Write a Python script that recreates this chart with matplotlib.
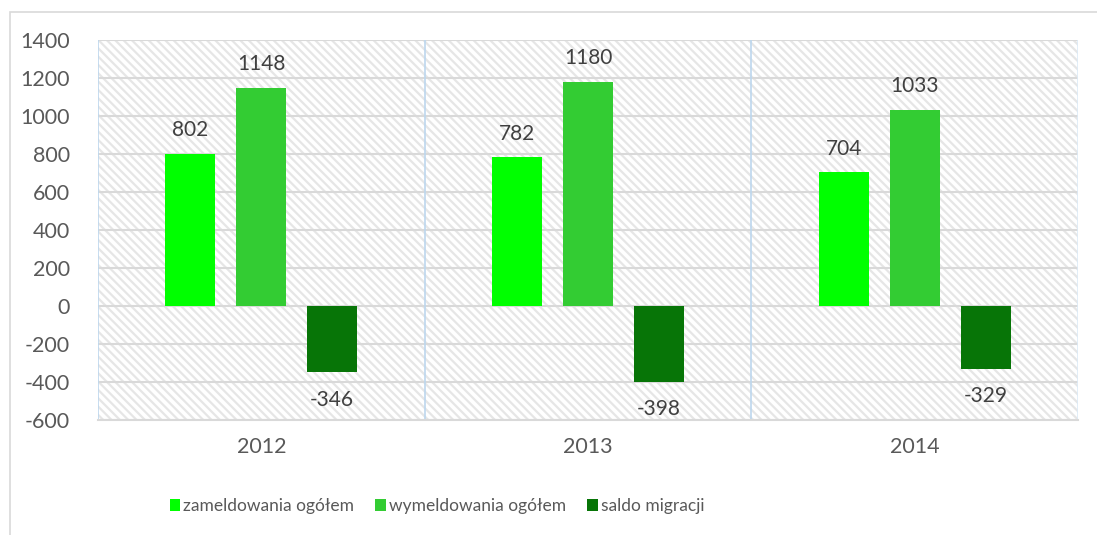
import numpy as np
import matplotlib
matplotlib.use("Agg")
import matplotlib.pyplot as plt
from matplotlib.patches import Rectangle, Patch

lata = ["2012", "2013", "2014"]
zameldowania = [802, 782, 704]
wymeldowania = [1148, 1180, 1033]
saldo = [-346, -398, -329]
serie = ["zameldowania ogółem", "wymeldowania ogółem", "saldo migracji"]
kolory = ["#00FF00", "#33CC33", "#077507"]

plt.rcParams['font.family'] = ['Lato', 'DejaVu Sans']
plt.rcParams['axes.unicode_minus'] = False
plt.rcParams['hatch.linewidth'] = 1.6
plt.rcParams['hatch.color'] = '#E6E6E6'

SZARY = '#595959'

fig = plt.figure(figsize=(10.97, 5.35), dpi=100)
ax = fig.add_axes([98 / 1097, 1 - 420 / 535, (1078 - 98) / 1097, (420 - 40) / 535])

# ramka wykresu
fig.patches.append(Rectangle((10 / 1097, -0.1), 1.2, 1 - 12 / 535 + 0.1,
                             transform=fig.transFigure, fill=False,
                             edgecolor='#D9D9D9', linewidth=1.2))

# tlo z kreskowaniem
ax.add_patch(Rectangle((0, 0), 1, 1, transform=ax.transAxes, facecolor='white',
                       edgecolor='#E6E6E6', hatch='\\\\\\\\', linewidth=0, zorder=0))

x = np.arange(len(lata))
szer = 0.153
odst = 0.217
dane = [zameldowania, wymeldowania, saldo]
for i, (wart, kol) in enumerate(zip(dane, kolory)):
    pos = x + (i - 1) * odst
    ax.bar(pos, wart, width=szer, color=kol, zorder=3)
    for p, v in zip(pos, wart):
        off = 17 if v >= 0 else -20
        ax.annotate(str(v), (p, v), xytext=(0, off), textcoords='offset points',
                    ha='center', va='center', fontsize=15, color='#404040')

ax.set_xlim(-0.5, 2.5)
ax.set_ylim(-600, 1400)
ax.set_yticks(np.arange(-600, 1401, 200))
ax.grid(axis='y', color='#D9D9D9', linewidth=1.5, zorder=1)
ax.set_axisbelow(True)
for b in [0.5, 1.5]:
    ax.axvline(b, color='#BDD7EE', linewidth=1.2, zorder=2)

for s in ['top', 'right', 'left']:
    ax.spines[s].set_visible(False)
ax.spines['bottom'].set_color('#D9D9D9')
ax.spines['bottom'].set_linewidth(1.5)
ax.axvline(-0.5, color='#BDD7EE', linewidth=1.2, zorder=2)
ax.axvline(2.5, color='#DDEBF7', linewidth=1.2, zorder=2)

ax.set_xticks(x)
ax.set_xticklabels(lata)
ax.tick_params(axis='both', length=0, labelsize=15.5, labelcolor=SZARY)
ax.tick_params(axis='y', pad=20)
ax.tick_params(axis='x', pad=12)

uchwyty = [Patch(facecolor=k, label=s) for k, s in zip(kolory, serie)]
fig.legend(handles=uchwyty, loc='center', bbox_to_anchor=(437 / 1097, 1 - 506 / 535),
           ncol=3, frameon=False, fontsize=12.5, labelcolor=SZARY,
           handlelength=0.6, handleheight=0.75, handletextpad=0.2, columnspacing=1.2)

fig.savefig("out.png", dpi=100)
